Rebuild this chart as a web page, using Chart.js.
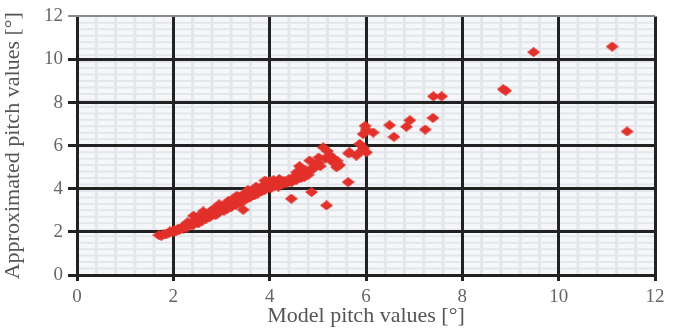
<!DOCTYPE html>
<html lang="en">
<head>
<meta charset="UTF-8">
<title>Model vs approximated pitch</title>
<script src="https://cdn.jsdelivr.net/npm/chart.js"></script>
<style>
    body { margin: 0; background: #ffffff; }
    .wrap { width: 675px; height: 329px; }
</style>
</head>
<body>
<div class="wrap"><canvas id="pitchChart" width="675" height="329"></canvas></div>
<script>
// model pitch [deg]
const modelPitch = [
    1.70, 1.75, 1.80, 1.85, 1.90, 1.93, 1.98, 2.02, 2.05, 2.10, 2.12, 2.18, 2.20, 2.25, 2.28,
    2.30, 2.33, 2.38, 2.40, 2.45, 2.48, 2.50, 2.52, 2.55, 2.58, 2.60, 2.65, 2.68, 2.70, 2.72,
    2.75, 2.78, 2.80, 2.83, 2.85, 2.88, 2.90, 2.93, 2.95, 3.00, 3.02, 3.05, 3.08, 3.10, 3.12,
    3.15, 3.18, 3.20, 3.23, 3.25, 3.28, 3.30, 3.33, 3.36, 3.38, 3.40, 3.43, 3.45, 3.48, 3.50,
    3.53, 3.55, 3.58, 3.60, 3.63, 3.66, 3.68, 3.70, 3.73, 3.75, 3.78, 3.80, 3.83, 3.85, 3.88,
    3.90, 3.93, 3.95, 3.98, 4.00, 4.02, 4.05, 4.08, 4.10, 4.15, 4.18, 4.22, 4.25, 4.30,
    4.35, 4.40, 4.45, 4.50, 4.55, 4.56, 4.60, 4.65, 4.70, 4.75, 4.80, 4.83, 4.85, 4.90, 4.95,
    5.00, 5.05, 5.11, 5.15, 5.20, 5.25, 5.28, 5.30, 5.35, 5.39, 5.40, 5.45,
    2.42, 2.62, 2.95, 3.15, 3.32, 3.55, 3.72, 3.90, 4.20, 4.62, 4.72, 5.02,
    3.45, 4.45, 4.87, 5.18, 5.63,
    5.66, 5.64, 5.80, 5.87, 6.01, 5.95, 5.90, 5.98, 5.94, 6.00, 6.15, 6.49, 6.58, 6.84, 6.91,
    7.23, 7.39, 7.40, 7.57, 8.85, 8.90, 9.48, 11.11, 11.42
];
// approximated pitch [deg], same order
const approxPitch = [
    1.85, 1.82, 1.90, 1.88, 1.95, 2.02, 1.98, 2.08, 2.02, 2.15, 2.08, 2.22, 2.15, 2.30, 2.20,
    2.45, 2.35, 2.42, 2.30, 2.55, 2.45, 2.68, 2.40, 2.60, 2.75, 2.52, 2.70, 2.62, 2.85, 2.78,
    2.68, 2.95, 2.82, 3.05, 2.90, 2.78, 3.00, 3.15, 2.92, 3.05, 3.20, 2.98, 3.12, 3.28, 3.08,
    3.22, 3.35, 3.15, 3.45, 3.30, 3.58, 3.25, 3.42, 3.62, 3.35, 3.50, 3.70, 3.42, 3.60, 3.78,
    3.55, 3.68, 3.85, 3.62, 3.75, 3.92, 3.70, 3.85, 3.98, 3.78, 3.92, 4.05, 3.88, 4.00, 4.15,
    3.95, 4.30, 4.08, 4.20, 4.35, 4.02, 4.25, 4.40, 4.15, 4.30, 4.10, 4.38, 4.20, 4.35,
    4.25, 4.45, 4.30, 4.55, 4.40, 4.77, 4.62, 4.50, 4.75, 4.85, 4.65, 5.31, 4.90, 4.92, 5.10,
    5.20, 5.05, 5.92, 5.40, 5.75, 5.55, 5.31, 5.45, 5.20, 5.00, 5.30, 5.10,
    2.75, 2.95, 3.28, 3.45, 3.68, 3.95, 4.10, 4.38, 4.45, 5.05, 4.55, 5.45,
    3.03, 3.54, 3.85, 3.23, 4.31,
    5.69, 5.64, 5.54, 6.08, 5.69, 5.90, 5.75, 6.92, 6.54, 6.75, 6.61, 6.95, 6.41, 6.88, 7.18,
    6.75, 7.29, 8.29, 8.29, 8.62, 8.55, 10.34, 10.60, 6.66
];
const axisTicks = [0, 2, 4, 6, 8, 10, 12];

const points = modelPitch.map((x, i) => ({ x: x, y: approxPitch[i] }));

// flat red diamond marker
const marker = document.createElement('canvas');
marker.width = 13;
marker.height = 10;
const mctx = marker.getContext('2d');
mctx.fillStyle = '#e2302a';
mctx.beginPath();
mctx.moveTo(6.5, 0);
mctx.lineTo(13, 5);
mctx.lineTo(6.5, 10);
mctx.lineTo(0, 5);
mctx.closePath();
mctx.fill();

// light background lattice under the black grid
const minorGrid = {
    id: 'minorGrid',
    beforeDraw(chart) {
        const { ctx, chartArea: a, scales } = chart;
        ctx.save();
        ctx.fillStyle = '#f6f7f9';
        ctx.fillRect(a.left, a.top, a.right - a.left, a.bottom - a.top);
        ctx.strokeStyle = '#e3e6eb';
        ctx.lineWidth = 3;
        for (let v = 0.4; v < 12; v += 0.4) {
            const px = scales.x.getPixelForValue(v);
            ctx.beginPath();
            ctx.moveTo(px, a.top);
            ctx.lineTo(px, a.bottom);
            ctx.stroke();
        }
        ctx.lineWidth = 2;
        for (let v = 0.3; v < 12; v += 0.3) {
            const py = scales.y.getPixelForValue(v);
            ctx.beginPath();
            ctx.moveTo(a.left, py);
            ctx.lineTo(a.right, py);
            ctx.stroke();
        }
        ctx.restore();
    }
};

const serif = '"Liberation Serif", "DejaVu Serif", serif';

new Chart(document.getElementById('pitchChart'), {
    type: 'scatter',
    data: {
        datasets: [{
            data: points,
            pointStyle: marker,
            pointRadius: 6,
            pointHoverRadius: 6
        }]
    },
    options: {
        responsive: false,
        animation: false,
        layout: { padding: { top: 15, right: 20, left: 0, bottom: 0 } },
        plugins: {
            legend: { display: false },
            tooltip: { enabled: false }
        },
        scales: {
            x: {
                type: 'linear',
                min: 0,
                max: 12,
                afterBuildTicks: s => { s.ticks = axisTicks.map(v => ({ value: v })); },
                afterFit: s => { s.height = 54; },
                grid: { color: '#222222', lineWidth: 3, tickLength: 6 },
                border: { display: false },
                ticks: { color: '#666666', font: { family: serif, size: 19 }, padding: 5 },
                title: {
                    display: true,
                    text: 'Model pitch values [°]',
                    color: '#555555',
                    font: { family: serif, size: 22 },
                    padding: { top: 0, bottom: 0 }
                }
            },
            y: {
                type: 'linear',
                min: 0,
                max: 12,
                afterBuildTicks: s => { s.ticks = axisTicks.map(v => ({ value: v })); },
                afterFit: s => { s.width = 77; },
                grid: {
                    color: c => c.tick && c.tick.value === 12 ? '#8a8a8a' : '#222222',
                    lineWidth: c => c.tick && c.tick.value === 12 ? 2 : 3,
                    tickLength: 9
                },
                border: { display: false },
                ticks: { color: '#666666', font: { family: serif, size: 19 }, padding: 5 },
                title: {
                    display: true,
                    text: 'Approximated pitch values [°]',
                    color: '#555555',
                    font: { family: serif, size: 22 },
                    padding: { top: 0, bottom: 2 }
                }
            }
        }
    },
    plugins: [minorGrid]
});
</script>
</body>
</html>
